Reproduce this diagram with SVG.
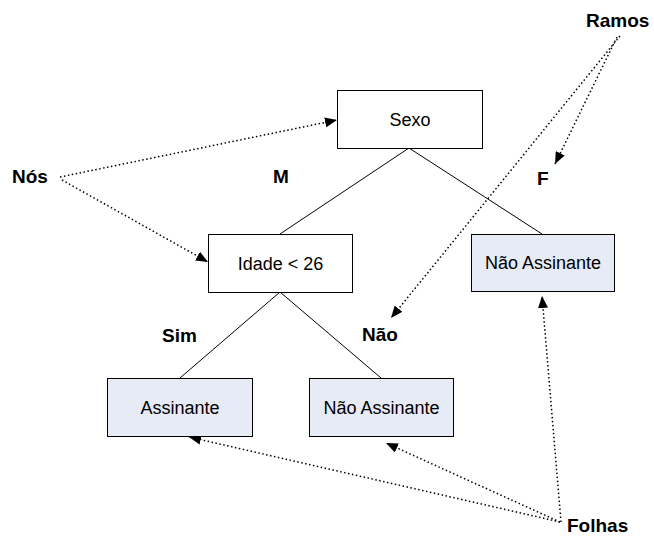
<svg xmlns="http://www.w3.org/2000/svg" width="654" height="536" viewBox="0 0 654 536">
  <defs>
    <marker id="head" viewBox="0 0 12 10" refX="12" refY="5" markerWidth="12" markerHeight="10" markerUnits="userSpaceOnUse" orient="auto">
      <path d="M0,0 L12,5 L0,10 Z" fill="#000"/>
    </marker>
  </defs>
  <style>
    .box { fill: #ffffff; stroke: #000; stroke-width: 1; }
    .leaf { fill: #e6ebf6; stroke: #000; stroke-width: 1; }
    .txt { font-family: "Liberation Sans", Arial, sans-serif; font-size: 18px; fill: #000; text-anchor: middle; }
    .lbl { font-family: "Liberation Sans", Arial, sans-serif; font-size: 19px; font-weight: bold; fill: #000; }
    .edge { stroke: #000; stroke-width: 1; fill: none; }
    .note { stroke: #000; stroke-width: 1.5; fill: none; stroke-dasharray: 1.5 2.5; marker-end: url(#head); }
  </style>
  <rect width="654" height="536" fill="#ffffff"/>

  <!-- tree branches and pointer arrows -->
  <g id="connectors">
    <line class="edge" x1="409" y1="148" x2="280" y2="234"/>
    <line class="edge" x1="409" y1="148" x2="542" y2="234"/>
    <line class="edge" x1="280" y1="292" x2="180" y2="378"/>
    <line class="edge" x1="280" y1="292" x2="381" y2="378"/>

    <line class="note" x1="60" y1="177" x2="337" y2="120"/>
    <line class="note" x1="62" y1="180" x2="208" y2="262"/>

    <line class="note" x1="617" y1="37" x2="555" y2="164"/>
    <line class="note" x1="620" y1="36" x2="391" y2="318"/>

    <line class="note" x1="560" y1="522" x2="189" y2="437"/>
    <line class="note" x1="560" y1="522" x2="386" y2="443"/>
    <line class="note" x1="561" y1="522" x2="542" y2="296"/>
  </g>

  <g id="node-sexo">
    <rect class="box" x="337.5" y="90.5" width="145" height="58"/>
    <text class="txt" x="410" y="125.5">Sexo</text>
  </g>
  <g id="node-idade">
    <rect class="box" x="208.5" y="234.5" width="144" height="58"/>
    <text class="txt" x="280.5" y="269.5">Idade &lt; 26</text>
  </g>
  <g id="leaf-nao-assinante-f">
    <rect class="leaf" x="471.5" y="234.5" width="143" height="57"/>
    <text class="txt" x="543" y="269">Não Assinante</text>
  </g>
  <g id="leaf-assinante">
    <rect class="leaf" x="107.5" y="378.5" width="145" height="58"/>
    <text class="txt" x="180" y="413.5">Assinante</text>
  </g>
  <g id="leaf-nao-assinante">
    <rect class="leaf" x="309.5" y="378.5" width="144" height="58"/>
    <text class="txt" x="381.5" y="413.5">Não Assinante</text>
  </g>

  <g id="branch-labels">
    <text class="lbl" x="273" y="183">M</text>
    <text class="lbl" x="537" y="185">F</text>
    <text class="lbl" x="162" y="342">Sim</text>
    <text class="lbl" x="362" y="341">Não</text>
  </g>

  <g id="callouts">
    <text class="lbl" x="12" y="183">Nós</text>
    <text class="lbl" x="586" y="27">Ramos</text>
    <text class="lbl" x="567" y="532">Folhas</text>
  </g>
</svg>
